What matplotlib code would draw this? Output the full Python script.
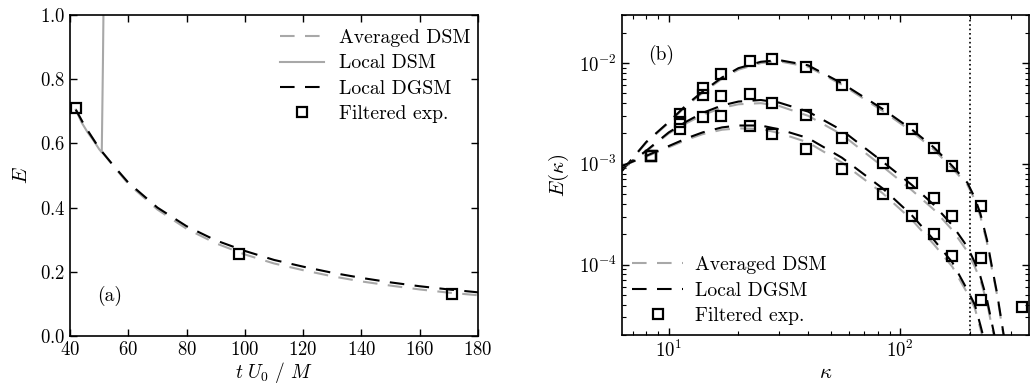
import numpy as np
import matplotlib.pyplot as plt
from matplotlib.ticker import LogLocator, NullFormatter

plt.rcParams['font.family'] = 'serif'
plt.rcParams['font.serif'] = ['cmr10']
plt.rcParams['mathtext.fontset'] = 'cm'
plt.rcParams['axes.formatter.use_mathtext'] = True
plt.rcParams['axes.unicode_minus'] = False
plt.rcParams['font.size'] = 13.5

# panel (a): energy decay
t_model = [42, 45, 50, 55, 60, 70, 80, 90, 100, 110, 120, 130, 140, 150, 160, 170, 180]
E_dgsm = [0.705, 0.655, 0.585, 0.53, 0.478, 0.40, 0.342, 0.298, 0.265, 0.237, 0.216, 0.197,
          0.181, 0.167, 0.155, 0.145, 0.136]
E_avg = [0.705, 0.655, 0.585, 0.528, 0.474, 0.394, 0.334, 0.289, 0.254, 0.226, 0.205, 0.186,
         0.170, 0.157, 0.145, 0.135, 0.127]
t_dsm = [42, 44, 46, 48, 50, 50.9, 51.3, 51.7]
E_dsm = [0.705, 0.665, 0.635, 0.61, 0.582, 0.572, 0.85, 1.2]
t_exp = [42, 98, 171]
E_exp = [0.71, 0.255, 0.131]

# panel (b): spectra at three times
k_line = [6.28, 8, 10, 12, 14, 17, 20, 25, 30, 40, 56, 84, 112, 140, 168, 195, 210, 222,
          237, 249, 262, 279, 300]
dgsm_1 = [8.5e-4, 1.65e-3, 2.6e-3, 3.9e-3, 5.2e-3, 7.2e-3, 8.9e-3, 1.03e-2, 1.07e-2, 9.5e-3,
          6.3e-3, 3.5e-3, 2.2e-3, 1.45e-3, 9.5e-4, 6.5e-4, 4.6e-4, 3.2e-4, 1.76e-4, 9.5e-5,
          5.2e-5, 2.1e-5, 8e-6]
dgsm_2 = [9.0e-4, 1.35e-3, 2.05e-3, 2.65e-3, 3.2e-3, 3.8e-3, 4.15e-3, 4.3e-3, 4.05e-3, 3.3e-3,
          2.15e-3, 1.05e-3, 6.2e-4, 3.9e-4, 2.45e-4, 1.5e-4, 1.05e-4, 7.6e-5, 4.5e-5, 2.6e-5,
          1.5e-5, 8e-6, 4e-6]
dgsm_3 = [9.5e-4, 1.2e-3, 1.5e-3, 1.8e-3, 2.05e-3, 2.3e-3, 2.4e-3, 2.4e-3, 2.2e-3, 1.8e-3,
          1.15e-3, 5.7e-4, 3.1e-4, 1.75e-4, 1.05e-4, 5.6e-5, 4.0e-5, 2.5e-5, 1.4e-5, 8e-6,
          5e-6, 3e-6, 2e-6]
avg_1 = [8.5e-4, 1.62e-3, 2.55e-3, 3.8e-3, 5.05e-3, 7.0e-3, 8.6e-3, 1.0e-2, 1.04e-2, 9.2e-3,
         6.1e-3, 3.35e-3, 2.1e-3, 1.38e-3, 9.0e-4, 6.2e-4, 4.4e-4, 3.0e-4, 1.65e-4, 9.0e-5,
         5.0e-5, 2.0e-5, 8e-6]
avg_2 = [9.0e-4, 1.33e-3, 2.0e-3, 2.55e-3, 3.05e-3, 3.6e-3, 3.9e-3, 4.0e-3, 3.75e-3, 3.0e-3,
         1.95e-3, 9.4e-4, 5.5e-4, 3.5e-4, 2.2e-4, 1.35e-4, 9.5e-5, 7.0e-5, 4.2e-5, 2.4e-5,
         1.4e-5, 8e-6, 4e-6]
avg_3 = [9.5e-4, 1.18e-3, 1.46e-3, 1.74e-3, 1.97e-3, 2.18e-3, 2.25e-3, 2.22e-3, 2.02e-3,
         1.63e-3, 1.03e-3, 5.1e-4, 2.8e-4, 1.58e-4, 9.5e-5, 5.2e-5, 3.7e-5, 2.3e-5, 1.3e-5,
         8e-6, 5e-6, 3e-6, 2e-6]
k_exp = [8.4, 11.2, 14, 16.8, 22.4, 28, 39.2, 56, 84, 112, 140, 168, 224, 336]
exp_1 = [1.2e-3, 3.15e-3, 5.6e-3, 7.85e-3, 1.05e-2, 1.1e-2, 9.1e-3, 6.1e-3, 3.53e-3, 2.24e-3,
         1.44e-3, 9.5e-4, 3.8e-4, 3.8e-5]
k_exp2 = [8.4, 11.2, 14, 16.8, 22.4, 28, 39.2, 56, 84, 112, 140, 168, 224]
exp_2 = [1.2e-3, 2.6e-3, 4.8e-3, 4.7e-3, 4.9e-3, 4.05e-3, 3.08e-3, 1.81e-3, 1.01e-3, 6.4e-4,
         4.6e-4, 3.05e-4, 1.16e-4]
exp_3 = [1.2e-3, 2.24e-3, 2.92e-3, 2.99e-3, 2.36e-3, 1.97e-3, 1.4e-3, 8.9e-4, 5.0e-4, 3.05e-4,
         2.0e-4, 1.22e-4, 4.5e-5]
k_cut = 201

grey = '#a8a8a8'
dash = (7, 5)
sq = dict(marker='s', ms=6.5, mfc='none', mec='black', mew=1.6, ls='none')

fig = plt.figure(figsize=(10.3, 3.85), dpi=100)
ax1 = fig.add_axes([70 / 1030, 49 / 385, 408 / 1030, 321 / 385])
ax2 = fig.add_axes([622 / 1030, 50 / 385, 407 / 1030, 320 / 385])

ax1.plot(t_model, E_avg, color=grey, lw=1.5, dashes=dash, label='Averaged DSM')
ax1.plot(t_dsm, E_dsm, color=grey, lw=1.5, label='Local DSM')
ax1.plot(t_model, E_dgsm, color='black', lw=1.5, dashes=dash, label='Local DGSM')
ax1.plot(t_exp, E_exp, label='Filtered exp.', **sq)
ax1.set_xlim(40, 180)
ax1.set_ylim(0, 1)
ax1.set_xticks(np.arange(40, 181, 20))
ax1.set_yticks(np.arange(0, 1.01, 0.2))
ax1.set_xlabel(r'$t\ U_{\mathit{0}}\ /\ M$', fontsize=14, labelpad=1)
ax1.set_ylabel(r'$E$', fontsize=15, labelpad=6)
ax1.text(0.098, 0.125, '(a)', transform=ax1.transAxes, ha='center', va='center', fontsize=14)
ax1.legend(loc='upper right', bbox_to_anchor=(1.0, 0.981), frameon=False, handlelength=2.2,
           handletextpad=0.75, labelspacing=0.38, fontsize=14.2, borderpad=0.2,
           borderaxespad=0.2)

for a, d in [(avg_1, dgsm_1), (avg_2, dgsm_2), (avg_3, dgsm_3)]:
    ax2.plot(k_line, a, color=grey, lw=1.5, dashes=dash)
    ax2.plot(k_line, d, color='black', lw=1.5, dashes=dash)
ax2.plot(k_exp, exp_1, **sq)
ax2.plot(k_exp2, exp_2, **sq)
ax2.plot(k_exp2, exp_3, **sq)
ax2.axvline(k_cut, color='black', lw=1.2, ls=':')
ax2.plot([], [], color=grey, lw=1.5, dashes=dash, label='Averaged DSM')
ax2.plot([], [], color='black', lw=1.5, dashes=dash, label='Local DGSM')
ax2.plot([], [], label='Filtered exp.', **sq)
ax2.set_xscale('log')
ax2.set_yscale('log')
ax2.set_xlim(2 * np.pi, 360)
ax2.set_ylim(2e-5, 3e-2)
ax2.yaxis.set_major_locator(LogLocator(base=10, numticks=10))
ax2.yaxis.set_minor_locator(LogLocator(base=10, subs=np.arange(2, 10), numticks=10))
ax2.yaxis.set_minor_formatter(NullFormatter())
ax2.xaxis.set_minor_formatter(NullFormatter())
ax2.set_xlabel(r'$\kappa$', fontsize=15, labelpad=2)
ax2.set_ylabel(r'$E(\kappa)$', fontsize=15, labelpad=6)
ax2.text(0.096, 0.875, '(b)', transform=ax2.transAxes, ha='center', va='center', fontsize=14)
ax2.legend(loc='lower left', frameon=False, handlelength=2.6, handletextpad=0.6,
           labelspacing=0.38, fontsize=14.2, borderpad=0.2, borderaxespad=0.3)

for ax in (ax1, ax2):
    ax.tick_params(which='both', direction='in', top=True, right=True, labelsize=13.5)
    ax.tick_params(which='major', length=5, width=1)
    ax.tick_params(which='minor', length=3, width=0.8)
    for s in ax.spines.values():
        s.set_linewidth(1.2)

fig.savefig('out.png', dpi=100)
